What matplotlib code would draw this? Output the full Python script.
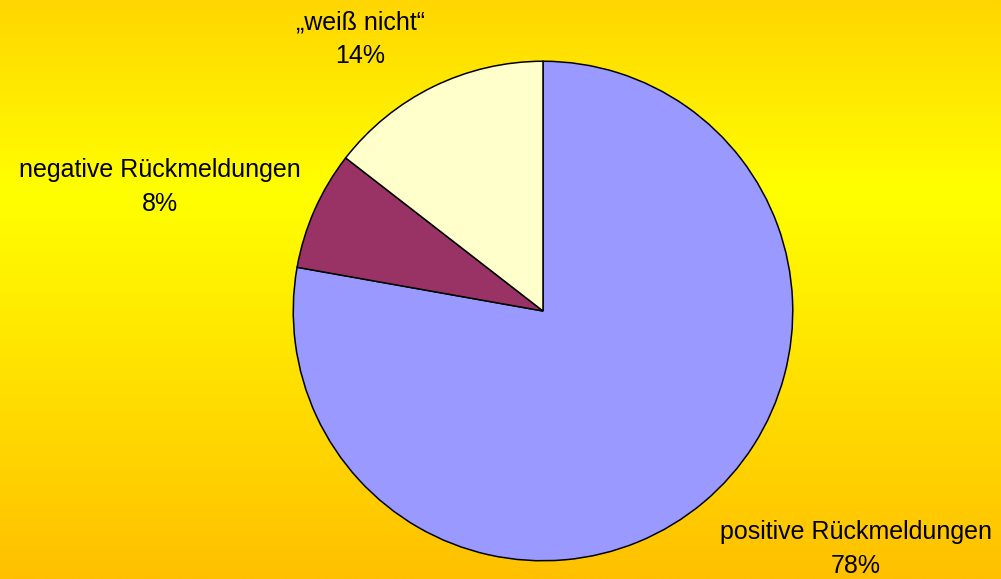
import numpy as np
import matplotlib.pyplot as plt
from matplotlib.colors import LinearSegmentedColormap

labels = ["positive Rückmeldungen", "negative Rückmeldungen", "\u201eweiß nicht\u201c"]
shares = [77.8, 7.7, 14.5]          # slice sizes
shown_pct = [78, 8, 14]             # percentages as printed in the labels
colors = ["#9999FF", "#993366", "#FFFFCC"]

W, H = 1001, 579
fig = plt.figure(figsize=(W / 100, H / 100), dpi=100)

# background gradient
bg = fig.add_axes([0, 0, 1, 1], zorder=0)
cmap = LinearSegmentedColormap.from_list(
    "bg", [(0.0, "#FFD600"), (0.33, "#FFFF00"), (1.0, "#FFC000")])
grad = np.linspace(0, 1, 256).reshape(-1, 1)
bg.imshow(grad, aspect="auto", cmap=cmap, extent=[0, 1, 0, 1], origin="upper")
bg.axis("off")

# pie
cx, cy, r = 543, 311, 251
ax = fig.add_axes([(cx - r) / W, (H - cy - r) / H, 2 * r / W, 2 * r / H], zorder=1)
ax.pie(shares, colors=colors, startangle=90, counterclock=False,
       wedgeprops=dict(edgecolor="black", linewidth=1.1))
ax.set_xlim(-1.005, 1.005)
ax.set_ylim(-1.005, 1.005)
ax.axis("off")

# labels (pixel centres)
label_pos = [(856, 549), (160, 187), (360, 39)]
for lab, p, (x, y) in zip(labels, shown_pct, label_pos):
    fig.text(x / W, 1 - y / H, "%s\n%d%%" % (lab, p), ha="center", va="center",
             fontsize=18, family="Liberation Sans", linespacing=1.5, zorder=2)

fig.savefig("out.png", dpi=100)
